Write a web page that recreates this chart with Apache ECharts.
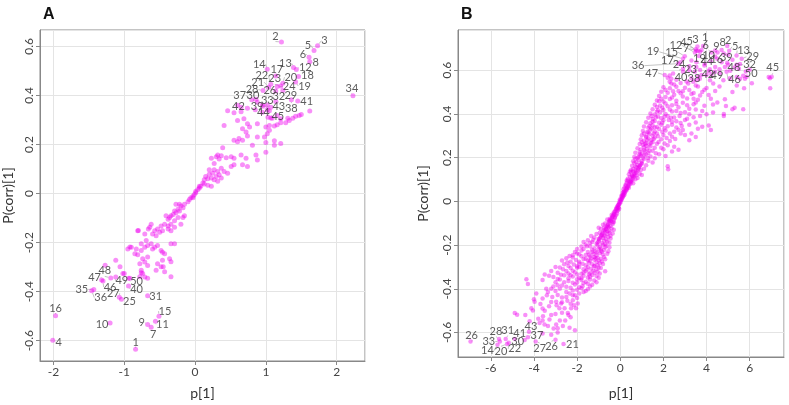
<!DOCTYPE html>
<html><head><meta charset="utf-8">
<script src="https://cdn.jsdelivr.net/npm/echarts@6/dist/echarts.min.js"></script>
<style>html,body{margin:0;padding:0;background:#fff}#c{width:789px;height:405px}</style>
</head><body><div id="c"></div>
<script>
// ---------- Panel A ----------
const pointsA = [
[0.46,0.338],[0.65,0.334],[0.85,0.342],[0.95,0.332],[1.03,0.311],[1.09,0.307],[1.16,0.318],[1.21,0.305],[1.31,0.307],[1.38,0.307],[1.42,0.315],[1.47,0.318],[1.50,0.322],[1.62,0.337],
[0.41,0.278],[0.60,0.298],[0.69,0.305],[0.74,0.285],[0.77,0.271],[0.67,0.264],[0.72,0.251],[0.88,0.285],[1.0,0.271],[1.05,0.278],[1.12,0.275],[1.16,0.281],[1.21,0.289],[1.28,0.289],[1.33,0.298],
[0.55,0.217],[0.62,0.224],[0.60,0.211],[0.67,0.217],[0.74,0.235],[0.81,0.197],[0.88,0.231],[0.98,0.231],[1.02,0.244],[1.05,0.258],[1.12,0.215],[1.21,0.204],[1.12,0.197],[1.0,0.208],
[0.39,0.187],[0.32,0.157],[0.37,0.154],[0.44,0.146],[0.51,0.150],[0.55,0.144],[0.65,0.157],[0.72,0.144],[0.86,0.157],[1.0,0.168],[0.88,0.137],[0.23,0.144],[0.27,0.123],
[0.55,0.117],[0.51,0.110],[0.67,0.117],[0.74,0.110],[0.88,0.372],[0.95,0.361],[1.05,0.338],[0.65,0.352],[0.55,0.33],[0.60,0.36],
[0.30,0.150],[0.34,0.141],[0.20,0.097],[0.27,0.097],[0.32,0.090],[0.37,0.103],[0.41,0.090],[0.46,0.083],[0.15,0.070],[0.20,0.079],[0.25,0.083],[0.30,0.070],[0.34,0.077],
[0.13,0.056],[0.18,0.060],[0.23,0.063],[0.11,0.043],[0.13,0.039],[0.08,0.030],[0.06,0.023],[0.27,0.056],[0.37,0.063],[0.32,0.050],[0.23,0.030],[0.18,0.034],
[0.04,0.016],[0.01,0.009],[-0.01,-0.004],[-0.03,-0.011],[-0.06,-0.017],[-0.08,-0.024],[-0.10,-0.034],[-0.03,-0.017],[0.01,0.003],[0.06,0.030],
[-0.15,-0.044],[-0.17,-0.058],[-0.20,-0.051],[-0.22,-0.071],[-0.24,-0.064],[-0.27,-0.078],[-0.29,-0.071],[-0.31,-0.085],[-0.34,-0.091],[-0.36,-0.098],[-0.38,-0.105],[-0.41,-0.091],
[-0.24,-0.098],[-0.29,-0.111],[-0.34,-0.125],[-0.38,-0.132],[-0.43,-0.125],[-0.48,-0.132],[-0.53,-0.145],[-0.57,-0.152],[-0.62,-0.125],[-0.64,-0.138],[-0.60,-0.165],[-0.55,-0.172],
[-0.50,-0.158],[-0.46,-0.152],[-0.38,-0.145],[-0.34,-0.152],[-0.29,-0.138],[-0.20,-0.125],[-0.17,-0.098],[-0.15,-0.091],[-0.22,-0.044],[-0.27,-0.044],
[-0.71,-0.165],[-0.69,-0.192],[-0.76,-0.205],[-0.81,-0.152],[-0.83,-0.226],[-0.90,-0.219],[-0.85,-0.246],[-0.76,-0.232],[-0.71,-0.219],[-0.67,-0.212],[-0.62,-0.205],[-0.57,-0.219],
[-0.53,-0.212],[-0.60,-0.226],[-0.48,-0.232],[-0.46,-0.239],[-0.43,-0.246],[-0.67,-0.259],[-0.74,-0.266],[-0.71,-0.279],[-0.67,-0.293],[-0.78,-0.286],[-0.76,-0.313],[-0.74,-0.326],
[-0.55,-0.313],[-0.53,-0.286],[-0.48,-0.299],[-0.43,-0.319],[-0.46,-0.272],[-0.34,-0.205],[-0.29,-0.205],[-0.36,-0.266],[-0.95,-0.226],[-1.02,-0.326],
[-1.06,-0.299],[-1.12,-0.272],[-1.0,-0.326],[-0.92,-0.346],[-1.27,-0.292],[-0.78,-0.339],[-0.67,-0.346],[-0.34,-0.339],[-0.34,-0.278],[-0.45,-0.299],
[-0.80,-0.151],[-0.66,-0.145],[-0.71,-0.34],[-0.76,-0.323],[-0.81,-0.25],[-0.92,-0.218]
];
const labelNamesA = ['2','3','5','6','8','12','13','14','17','18','20','19','22','23','21','24','26','28','29','37','30','33','32','41','42','39','43','38','44','45','34',
'48','47','49','50','46','40','35','36','27','25','31','15','16','10','9','11','7','4','1'];
const labelPointsA = [
[1.22,0.618],[1.73,0.603],[1.68,0.583],[1.61,0.556],[1.62,0.538],[1.43,0.506],[1.39,0.514],[1.02,0.507],[1.14,0.479],[1.46,0.477],[1.24,0.45],[1.42,0.455],[1.07,0.446],[1.21,0.439],[1.04,0.434],[1.16,0.437],
[1.14,0.418],[0.96,0.42],[1.24,0.42],[0.80,0.383],[0.86,0.385],[1.02,0.361],[1.14,0.375],[1.45,0.377],[0.74,0.348],[0.96,0.356],[1.07,0.352],[1.36,0.383],[1.02,0.342],[1.07,0.308],[2.23,0.399],
[-1.19,-0.344],[-1.32,-0.353],[-1.12,-0.34],[-0.94,-0.346],[-1.30,-0.357],[-0.94,-0.377],[-1.43,-0.391],[-1.46,-0.396],[-1.07,-0.423],[-1.04,-0.431],[-0.67,-0.417],[-0.51,-0.50],
[-1.97,-0.498],[-1.20,-0.528],[-0.67,-0.534],[-0.56,-0.521],[-0.62,-0.545],[-2.01,-0.598],[-0.84,-0.635]
];
const labelOffsetsA = [
[-6,-6],[7,-5],[-6,-5],[-6,-3],[6,1],[9,-2],[-8,-4],[-8,-5],[1,-7],[9,-1],[8,-6],[9,4],[-9,-9],[-6,-7],[-11,-5],[12,0],
[-6,-1],[-11,-1],[8,5],[-12,-4],[-3,-4],[0,-5],[3,-5],[9,0],[-9,-2],[-6,0],[8,-1],[0,9],[-4,3],[7,-2],[-1,-7],
[-6,-7],[-7,-3],[6,4],[8,3],[7,6],[8,3],[-12,0],[9,7],[-6,-4],[8,2],[8,1],[6,-5],[0,-7],[-8,1],[-6,-2],[7,3],[2,7],[6,2],[0,-7]
];

// ---------- Panel B ----------
const pointsB = [
[0.05,0.024],[0.1,0.018],[0.12,0.027],[0.08,0.012],[0.15,0.031],[-0.05,-0.004],[0.0,0.003],[0.03,0.009],[-0.02,-0.01],[0.05,0.006],
[-0.1,-0.017],[-0.15,-0.026],[-0.05,-0.012],[-0.12,-0.021],[-0.08,-0.029],[0.15,0.043],[0.2,0.036],[0.25,0.048],[0.12,0.039],[0.3,0.052],[0.18,0.045],
[0.2,0.063],[0.3,0.058],[0.35,0.067],[0.25,0.071],[0.4,0.062],[0.15,0.055],[0.3,0.085],[0.4,0.078],[0.5,0.088],[0.25,0.076],[0.45,0.091],[0.6,0.083],[0.35,0.095],
[0.35,0.104],[0.5,0.098],[0.6,0.11],[0.7,0.101],[0.45,0.113],[0.8,0.107],[0.3,0.096],[0.55,0.118],
[0.4,0.124],[0.55,0.115],[0.65,0.128],[0.75,0.119],[0.9,0.126],[0.5,0.134],[1.0,0.121],[0.6,0.137],
[0.5,0.143],[0.6,0.148],[0.7,0.139],[0.85,0.152],[0.95,0.144],[1.1,0.149],[0.45,0.137],[0.75,0.156],
[0.55,0.163],[0.7,0.158],[0.8,0.168],[0.9,0.161],[1.0,0.172],[1.2,0.165],[0.65,0.175],[2.2,0.161],
[0.6,0.184],[0.75,0.179],[0.85,0.19],[1.0,0.183],[1.1,0.194],[1.3,0.186],[0.7,0.195],[1.5,0.178],[2.22,0.147],
[0.65,0.203],[0.8,0.198],[0.95,0.209],[1.05,0.2],[1.2,0.214],[1.4,0.205],[1.6,0.197],[0.9,0.216],[2.1,0.207],
[0.7,0.222],[0.9,0.226],[1.0,0.218],[1.15,0.229],[1.3,0.221],[1.5,0.232],[1.8,0.215],[2.4,0.228],[1.1,0.234],
[0.8,0.243],[0.95,0.237],[1.1,0.248],[1.25,0.241],[1.4,0.252],[1.6,0.245],[2.0,0.238],[2.7,0.236],[1.2,0.255],
[0.9,0.262],[1.05,0.258],[1.2,0.267],[1.35,0.26],[1.5,0.271],[1.7,0.264],[2.2,0.257],[2.5,0.25],[1.0,0.27],
[0.95,0.283],[1.1,0.277],[1.3,0.288],[1.45,0.281],[1.6,0.292],[1.9,0.284],[2.3,0.276],[3.2,0.28],[1.2,0.295],
[1.0,0.302],[1.2,0.297],[1.35,0.308],[1.5,0.3],[1.7,0.311],[2.0,0.304],[2.4,0.296],[2.8,0.31],[3.5,0.295],[1.1,0.31],
[1.05,0.322],[1.25,0.317],[1.4,0.328],[1.6,0.32],[1.8,0.331],[2.1,0.324],[2.5,0.318],[2.9,0.326],[3.3,0.311],[1.45,0.333],
[1.1,0.342],[1.3,0.337],[1.5,0.348],[1.7,0.34],[1.9,0.351],[2.2,0.344],[2.6,0.338],[3.0,0.304],[4.2,0.326],[3.8,0.341],
[1.2,0.362],[1.4,0.357],[1.6,0.368],[1.8,0.36],[2.0,0.371],[2.4,0.364],[2.8,0.358],[3.5,0.361],[4.1,0.347],[3.6,0.332],
[1.3,0.382],[1.5,0.377],[1.75,0.388],[1.9,0.38],[2.2,0.391],[2.5,0.384],[3.1,0.378],[3.7,0.39],[4.8,0.391],
[1.4,0.402],[1.6,0.397],[1.85,0.408],[2.1,0.4],[2.4,0.411],[2.8,0.404],[3.2,0.398],[4.0,0.399],[4.8,0.4],[5.3,0.428],
[1.5,0.422],[1.75,0.417],[1.95,0.428],[2.3,0.42],[2.7,0.431],[3.2,0.424],[3.8,0.413],[4.3,0.443],[5.2,0.422],
[1.6,0.442],[1.85,0.437],[2.1,0.448],[2.4,0.44],[2.9,0.451],[3.4,0.444],[3.9,0.437],[4.3,0.406],[5.7,0.422],[1.8,0.458],
[1.7,0.462],[2.0,0.457],[2.3,0.468],[2.6,0.46],[3.1,0.471],[3.5,0.452],[4.5,0.452],[4.9,0.436],
[1.8,0.482],[2.1,0.477],[2.5,0.488],[2.8,0.495],[3.3,0.491],[3.7,0.484],[4.1,0.487],[4.85,0.467],
[1.9,0.502],[2.2,0.497],[2.45,0.504],[2.9,0.504],[3.4,0.496],[3.9,0.511],[4.0,0.519],
[2.0,0.522],[2.3,0.517],[2.6,0.524],[3.0,0.52],[3.6,0.526],[5.74,0.517],[6.95,0.517],
[2.37,0.539],[2.29,0.547],[2.8,0.541],[3.15,0.539],[3.38,0.547],[4.31,0.539],[3.07,0.548],
[2.2,0.565],[2.37,0.561],[2.6,0.556],[3.3,0.563],[3.53,0.554],[3.69,0.561],[4.16,0.554],[4.78,0.554],[5.08,0.563],[5.55,0.561],[5.78,0.561],[6.94,0.563],
[2.29,0.576],[2.45,0.585],[3.61,0.57],[3.77,0.578],[4.0,0.578],[4.23,0.581],[4.62,0.585],[5.86,0.57],[6.88,0.569],[5.40,0.569],
[3.2,0.6],[3.7,0.601],[4.1,0.595],[4.6,0.605],[5.1,0.598],[5.5,0.607],[6.0,0.602],[5.82,0.594],
[3.2,0.618],[3.9,0.622],[4.4,0.615],[5.0,0.625],[5.3,0.612],[5.55,0.628],
[3.3,0.645],[4.2,0.641],[4.5,0.652],[5.2,0.648],[3.65,0.665],[4.4,0.662],[5.0,0.671],[3.7,0.684],[4.4,0.69],[4.8,0.676],
[-0.1,-0.041],[-0.2,-0.036],[-0.25,-0.047],[-0.15,-0.044],[-0.3,-0.051],[-0.05,-0.034],
[-0.2,-0.063],[-0.3,-0.058],[-0.35,-0.067],[-0.15,-0.055],[-0.4,-0.062],[-0.25,-0.071],
[-0.3,-0.085],[-0.4,-0.078],[-0.5,-0.088],[-0.25,-0.076],[-0.45,-0.091],[-0.6,-0.083],[-0.35,-0.095],
[-0.35,-0.104],[-0.5,-0.098],[-0.6,-0.11],[-0.7,-0.101],[-0.45,-0.113],[-0.8,-0.107],[-0.3,-0.096],[-0.55,-0.118],
[-0.4,-0.124],[-0.55,-0.115],[-0.65,-0.128],[-0.75,-0.119],[-0.9,-0.126],[-0.5,-0.134],[-1.0,-0.121],[-0.6,-0.137],[-0.3,-0.13],
[-0.5,-0.143],[-0.6,-0.148],[-0.7,-0.139],[-0.85,-0.152],[-0.95,-0.144],[-1.1,-0.149],[-0.45,-0.157],[-0.75,-0.156],[-0.35,-0.147],
[-0.55,-0.163],[-0.7,-0.158],[-0.8,-0.168],[-0.9,-0.161],[-1.0,-0.172],[-1.2,-0.165],[-0.65,-0.175],[-1.35,-0.158],[-0.45,-0.17],
[-0.6,-0.184],[-0.75,-0.179],[-0.85,-0.19],[-1.0,-0.183],[-1.1,-0.194],[-1.3,-0.186],[-0.7,-0.195],[-1.5,-0.178],[-0.5,-0.189],[-1.7,-0.186],
[-0.65,-0.203],[-0.8,-0.198],[-0.95,-0.209],[-1.05,-0.2],[-1.2,-0.214],[-1.4,-0.205],[-1.6,-0.197],[-0.9,-0.216],[-1.8,-0.207],[-0.5,-0.21],
[-0.75,-0.222],[-0.9,-0.226],[-1.0,-0.218],[-1.15,-0.229],[-1.3,-0.221],[-1.5,-0.232],[-1.8,-0.225],[-2.0,-0.218],[-1.1,-0.234],[-0.55,-0.228],
[-0.8,-0.243],[-0.95,-0.237],[-1.1,-0.248],[-1.25,-0.241],[-1.4,-0.252],[-1.6,-0.245],[-2.0,-0.238],[-2.2,-0.246],[-1.2,-0.255],[-0.6,-0.24],[-1.8,-0.251],
[-0.9,-0.262],[-1.05,-0.258],[-1.2,-0.267],[-1.35,-0.26],[-1.5,-0.271],[-1.7,-0.264],[-2.2,-0.257],[-2.5,-0.26],[-1.0,-0.27],[-1.9,-0.276],[-0.7,-0.265],
[-0.95,-0.283],[-1.1,-0.277],[-1.3,-0.288],[-1.45,-0.281],[-1.6,-0.292],[-1.9,-0.284],[-2.3,-0.276],[-2.6,-0.288],[-1.2,-0.295],[-0.8,-0.286],[-2.0,-0.297],
[-1.0,-0.302],[-1.2,-0.297],[-1.35,-0.308],[-1.5,-0.3],[-1.7,-0.311],[-2.0,-0.304],[-2.4,-0.296],[-2.8,-0.303],[-1.1,-0.31],[-2.2,-0.317],[-0.9,-0.305],
[-1.05,-0.322],[-1.25,-0.317],[-1.4,-0.328],[-1.6,-0.32],[-1.8,-0.331],[-2.1,-0.324],[-2.5,-0.318],[-2.9,-0.326],[-1.45,-0.333],[-2.3,-0.338],[-0.7,-0.32],
[-1.1,-0.342],[-1.3,-0.337],[-1.5,-0.348],[-1.7,-0.34],[-1.9,-0.351],[-2.2,-0.344],[-2.6,-0.338],[-3.1,-0.346],[-2.0,-0.356],[-3.5,-0.335],
[-1.2,-0.362],[-1.4,-0.357],[-1.6,-0.368],[-1.8,-0.36],[-2.0,-0.371],[-2.4,-0.364],[-2.8,-0.358],[-3.2,-0.319],[-2.6,-0.37],[-4.35,-0.356],
[-1.3,-0.382],[-1.5,-0.377],[-1.75,-0.388],[-2.1,-0.38],[-2.5,-0.391],[-2.9,-0.384],[-4.28,-0.378],[-1.9,-0.393],
[-1.5,-0.402],[-1.8,-0.397],[-2.2,-0.408],[-2.8,-0.4],[-3.2,-0.4],[-3.43,-0.4],[-1.6,-0.41],[-2.0,-0.404],
[-1.9,-0.422],[-2.35,-0.422],[-2.9,-0.428],[-3.35,-0.415],[-3.89,-0.422],[-2.1,-0.43],
[-2.0,-0.442],[-2.5,-0.437],[-3.15,-0.437],[-3.6,-0.444],[-4.0,-0.448],
[-2.2,-0.452],[-2.7,-0.462],[-2.97,-0.459],[-3.97,-0.459],[-2.3,-0.468],
[-2.05,-0.489],[-2.58,-0.489],[-2.82,-0.489],[-3.3,-0.48],[-4.12,-0.489],[-2.74,-0.467],
[-1.97,-0.467],[-2.28,-0.489],[-2.43,-0.511],[-4.05,-0.499],[-3.5,-0.5],
[-2.4,-0.52],[-3.58,-0.526],[-4.89,-0.511],[-4.78,-0.519],[-3.0,-0.515],
[-2.3,-0.53],[-3.28,-0.541],[-3.8,-0.537],[-4.2,-0.548],[-2.8,-0.545],
[-2.97,-0.563],[-3.51,-0.563],[-3.74,-0.556],[-2.66,-0.57],[-3.35,-0.57],
[-2.35,-0.578],[-3.09,-0.582],[-2.1,-0.59],[-2.9,-0.6],[-3.2,-0.61],[-3.6,-0.605],
[-0.02,0.008],[0.07,0.02],[0.1,0.03],[-0.07,-0.015],[-0.1,-0.028],[0.02,-0.003],[0.13,0.022],[-0.13,-0.033],[0.18,0.028],[-0.18,-0.031],[0.22,0.041],[-0.22,-0.043],
[0.27,0.055],[-0.27,-0.059],[0.32,0.064],[-0.33,-0.066],[0.38,0.072],[-0.38,-0.073],[0.42,0.085],[-0.43,-0.084],[0.47,0.079],[-0.48,-0.079],[0.52,0.094],[-0.52,-0.093],
[0.57,0.101],[-0.57,-0.106],[0.62,0.115],[-0.62,-0.116],[0.67,0.121],[-0.67,-0.124],[0.72,0.131],[-0.72,-0.131],[0.78,0.139],[-0.78,-0.137],[0.82,0.145],[-0.82,-0.146],
[0.88,0.158],[-0.88,-0.155],[0.93,0.166],[-0.93,-0.167],[0.98,0.175],[-0.98,-0.174],
[0.85,0.205],[1.12,0.212],[1.28,0.198],[1.35,0.232],[1.65,0.22],[1.9,0.245],[1.15,0.262],[1.42,0.268],[1.78,0.272],[2.05,0.265],[1.25,0.28],[1.55,0.285],
[1.75,0.298],[2.15,0.29],[2.55,0.285],[1.3,0.315],[1.55,0.31],[1.95,0.318],[2.3,0.31],[2.7,0.328],[1.35,0.345],[1.6,0.338],[2.05,0.335],[2.4,0.35],
[2.85,0.345],[3.2,0.35],[1.5,0.365],[1.95,0.36],[2.25,0.372],[2.6,0.366],[3.0,0.372],[1.45,0.39],[1.65,0.385],[2.05,0.388],[2.35,0.382],[2.75,0.39],
[3.4,0.385],[1.7,0.41],[2.0,0.418],[2.6,0.414],[3.0,0.408],[3.5,0.42],[1.7,0.432],[2.2,0.435],[2.6,0.445],[3.1,0.44],[3.6,0.465],[1.9,0.47],
[2.4,0.475],[2.9,0.48],[3.4,0.47],[4.2,0.47],[2.1,0.51],[2.7,0.505],[3.2,0.51],[3.8,0.5],[4.4,0.505],[5.2,0.5],[2.5,0.535],[3.5,0.53],[4.6,0.525],[5.4,0.53],[6.1,0.54],
[-1.05,-0.188],[-1.25,-0.176],[-1.4,-0.19],[-1.55,-0.205],[-0.7,-0.21],[-1.3,-0.232],[-1.7,-0.218],[-2.1,-0.232],[-0.85,-0.23],[-1.45,-0.244],[-1.9,-0.242],[-2.35,-0.25],
[-0.75,-0.255],[-1.15,-0.26],[-1.6,-0.262],[-2.05,-0.268],[-2.7,-0.27],[-0.85,-0.275],[-1.4,-0.272],[-1.75,-0.285],[-2.15,-0.289],[-2.45,-0.28],[-1.05,-0.292],[-1.55,-0.312],
[-1.9,-0.3],[-2.3,-0.305],[-2.65,-0.31],[-3.0,-0.3],[-0.95,-0.33],[-1.2,-0.326],[-1.7,-0.325],[-2.0,-0.335],[-2.4,-0.33],[-2.75,-0.336],[-3.3,-0.34],[-1.0,-0.35],
[-1.4,-0.345],[-1.8,-0.352],[-2.4,-0.352],[-2.9,-0.355],[-1.1,-0.37],[-1.7,-0.375],[-2.2,-0.372],[-3.0,-0.37],[-3.6,-0.36],[-1.4,-0.39],[-2.3,-0.395],[-2.7,-0.385],
[-3.1,-0.39],[-1.7,-0.415],[-2.5,-0.415],[-3.0,-0.41],[-2.2,-0.43],[-2.7,-0.44],[-3.4,-0.43],[-2.45,-0.455],[-3.2,-0.46],[-3.7,-0.47],[-2.15,-0.475],[-2.95,-0.475],
[-3.6,-0.49],[-2.7,-0.51],[-3.2,-0.52],[-4.4,-0.52],[-2.55,-0.545],[-3.6,-0.545],[-2.9,-0.58]
];
const labelNamesB = ['1','3','5','4','12','7','6','2','8','9','10','5','13','29','39','16','44','19','19','15','17','36','24','47','40','23','38','42','49','48','32','46','50','45',
'26','28','31','33','14','20','22','41','30','43','37','27','26','21'];
const labelPointsB = [
[3.84,0.711],[3.58,0.708],[3.50,0.696],[3.53,0.689],[3.46,0.681],[3.61,0.689],[3.77,0.693],[4.96,0.711],[4.70,0.693],[4.51,0.681],[4.23,0.681],[5.05,0.689],[5.39,0.667],[5.63,0.652],
[4.96,0.634],[4.70,0.637],[3.92,0.630],[3.53,0.637],[2.91,0.652],[2.99,0.664],[2.79,0.637],[2.68,0.630],[2.91,0.607],[2.06,0.578],[2.91,0.593],[3.53,0.615],[3.46,0.593],
[4.15,0.604],[4.39,0.593],[4.85,0.615],[5.39,0.625],[4.93,0.593],[5.70,0.575],[7.02,0.570],
[-6.94,-0.641],[-5.62,-0.630],[-5.31,-0.630],[-5.58,-0.641],[-5.69,-0.656],[-5.25,-0.652],[-5.17,-0.647],[-4.89,-0.630],[-4.43,-0.634],[-4.23,-0.597],[-4.28,-0.622],[-3.92,-0.641],[-3.0,-0.633],[-2.63,-0.652]
];
const labelOffsetsB = [
[2,-9],[-2,-7],[-6,-8],[-13,-8],[-19,-7],[-12,-2],[4,-4],[1,-6],[1,-7],[-1,-6],[-3,3],[6,-4],[7,-5],[11,-2],
[-1,-5],[-5,-3],[2,-2],[3,-4],[-30,-7],[-13,-4],[-13,-2],[-40,2],[-4,-4],[-13,-2],[-2,6],[-6,3],[-1,7],
[-2,5],[2,4],[9,1],[13,0],[8,8],[8,-2],[1,-9],
[1,-6],[-3,-8],[2,-9],[-11,0],[-10,6],[-6,8],[6,6],[5,-6],[-7,2],[2,-5],[9,-2],[4,7],[-4,7],[9,1]
];

const ptColor = 'rgba(238,0,238,0.55)';
const txtFont = 'Lato, "Liberation Sans", sans-serif';

function axisX(grid, min, max, split, gap) {
  return {gridIndex: grid, type: 'value', min: min, max: max, splitNumber: split,
    name: 'p[1]', nameLocation: 'middle', nameGap: gap,
    nameTextStyle: {color: '#333', fontSize: 14, fontFamily: txtFont},
    axisLine: {show: true, onZero: false, lineStyle: {color: '#888'}},
    axisTick: {show: true, length: 4, lineStyle: {color: '#888'}},
    axisLabel: {showMinLabel: false, showMaxLabel: false, color: '#444', fontSize: 12, margin: 5, fontFamily: txtFont},
    splitLine: {show: true, lineStyle: {color: '#e4e4e4', width: 1}}};
}
function axisY(grid, min, max, split, gap) {
  return {gridIndex: grid, type: 'value', min: min, max: max, splitNumber: split,
    name: 'P(corr)[1]', nameLocation: 'middle', nameGap: gap, nameRotate: 90,
    nameTextStyle: {color: '#333', fontSize: 14, fontFamily: txtFont},
    axisLine: {show: true, onZero: false, lineStyle: {color: '#888'}},
    axisTick: {show: true, length: 4, lineStyle: {color: '#888'}},
    axisLabel: {rotate: 90, showMinLabel: false, showMaxLabel: false, color: '#444', fontSize: 12, margin: 5, fontFamily: txtFont},
    splitLine: {show: true, lineStyle: {color: '#e4e4e4', width: 1}}};
}
function labelSeries(idx, names, pts, offs, size) {
  return {type: 'scatter', xAxisIndex: idx, yAxisIndex: idx, symbolSize: size, silent: true,
    itemStyle: {color: ptColor},
    data: pts.map((p, i) => ({name: names[i], value: p})),
    label: {show: true, position: 'inside', formatter: '{b}', color: '#333', fontSize: 11, fontFamily: txtFont},
    labelLine: {show: true, lineStyle: {color: '#aaa', width: 0.7}},
    labelLayout: function (p) { const o = offs[p.dataIndex]; return {dx: o[0], dy: o[1]}; }};
}

const chart = echarts.init(document.getElementById('c'), null, {renderer: 'canvas'});
chart.setOption({
  animation: false,
  backgroundColor: '#fff',
  title: [
    {text: 'A', left: 38, top: 2, textStyle: {fontSize: 16, fontWeight: 'bold', color: '#111', fontFamily: '"Liberation Sans", Arial, sans-serif'}},
    {text: 'B', left: 456, top: 2, textStyle: {fontSize: 16, fontWeight: 'bold', color: '#111', fontFamily: '"Liberation Sans", Arial, sans-serif'}}
  ],
  grid: [
    {left: 38, top: 30, width: 327, height: 335, show: true, borderColor: '#888', borderWidth: 1, backgroundColor: 'transparent'},
    {left: 458, top: 30, width: 326, height: 335, show: true, borderColor: '#888', borderWidth: 1, backgroundColor: 'transparent'}
  ],
  xAxis: [axisX(0, -2.19, 2.40, 5, 25), axisX(1, -7.52, 7.59, 7, 29)],
  yAxis: [axisY(0, -0.683, 0.667, 7, 25), axisY(1, -0.712, 0.784, 7, 28)],
  series: [
    {type: 'scatter', xAxisIndex: 0, yAxisIndex: 0, symbolSize: 5, silent: true, itemStyle: {color: ptColor}, data: pointsA},
    labelSeries(0, labelNamesA, labelPointsA, labelOffsetsA, 5),
    {type: 'scatter', xAxisIndex: 1, yAxisIndex: 1, symbolSize: 4.5, silent: true, itemStyle: {color: ptColor}, data: pointsB},
    labelSeries(1, labelNamesB, labelPointsB, labelOffsetsB, 4.5)
  ]
});
</script></body></html>
